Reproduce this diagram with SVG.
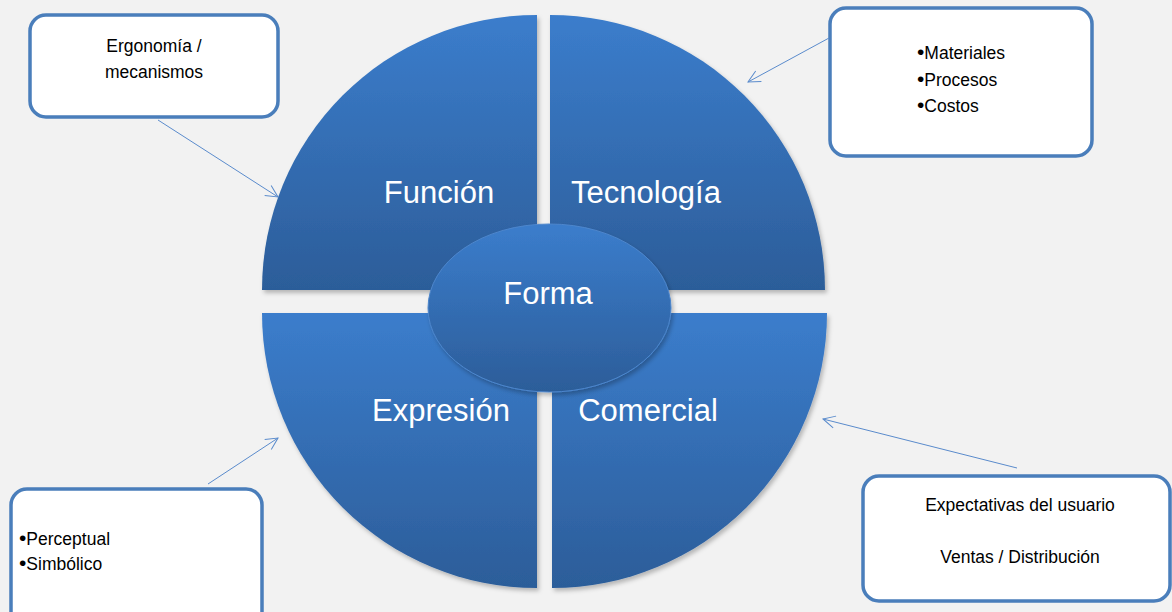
<svg xmlns="http://www.w3.org/2000/svg" width="1172" height="612" viewBox="0 0 1172 612">
<defs>
<linearGradient id="g" x1="0" y1="0" x2="0" y2="1">
<stop offset="0" stop-color="#3b7dcc"/>
<stop offset="1" stop-color="#2c5d99"/>
</linearGradient>
<filter id="sh" x="-10%" y="-10%" width="130%" height="130%">
<feDropShadow dx="2" dy="3" stdDeviation="2" flood-color="#000" flood-opacity="0.25"/>
</filter>
<marker id="ah" markerWidth="14" markerHeight="14" refX="13" refY="7" orient="auto" markerUnits="userSpaceOnUse">
<path d="M1,1 L13,7 L1,13" fill="none" stroke="#5a8bcc" stroke-width="1"/>
</marker>
<style>
.q{fill:url(#g);filter:url(#sh)}
.ql{font-family:"Liberation Sans",Arial,sans-serif;font-size:31px;fill:#fff;text-anchor:middle}
.box{fill:#fff;stroke:#4a7ebb;stroke-width:3.5}
.bt{font-family:"Liberation Sans",Arial,sans-serif;font-size:17.5px;fill:#000}
.b{font-size:21px}
.c{stroke:#5a8bcc;stroke-width:1;fill:none;marker-end:url(#ah)}
</style>
</defs>
<rect width="1172" height="612" fill="#f2f2f2"/>
<g id="funcion">
<path class="q" d="M537,290 L262,290 A275,275 0 0 1 537,15 Z"/>
<text class="ql" x="439" y="203">Función</text>
</g>
<g id="tecnologia">
<path class="q" d="M550,290 L550,15 A275,275 0 0 1 825,290 Z"/>
<text class="ql" x="646" y="203">Tecnología</text>
</g>
<g id="expresion">
<path class="q" d="M537,313 L537,588 A275,275 0 0 1 262,313 Z"/>
<text class="ql" x="441" y="421">Expresión</text>
</g>
<g id="comercial">
<path class="q" d="M552,313 L827,313 A275,275 0 0 1 552,588 Z"/>
<text class="ql" x="648" y="421">Comercial</text>
</g>
<g id="forma">
<ellipse cx="549.5" cy="308" rx="121.5" ry="84" fill="url(#g)" stroke="#4d86cc" stroke-width="1" filter="url(#sh)"/>
<text class="ql" x="548" y="304">Forma</text>
</g>
<g id="box-ergonomia">
<rect class="box" x="30" y="15" width="248" height="102" rx="16"/>
<text class="bt" x="154" y="52" text-anchor="middle">Ergonomía /</text>
<text class="bt" x="154" y="78" text-anchor="middle">mecanismos</text>
</g>
<g id="box-tecnologia">
<rect class="box" x="830" y="8" width="262" height="148" rx="16"/>
<text class="bt" x="917" y="59"><tspan class="b">•</tspan>Materiales</text>
<text class="bt" x="917" y="86"><tspan class="b">•</tspan>Procesos</text>
<text class="bt" x="917" y="112"><tspan class="b">•</tspan>Costos</text>
</g>
<g id="box-expresion">
<rect class="box" x="11" y="489" width="251" height="140" rx="16"/>
<text class="bt" x="19" y="545"><tspan class="b">•</tspan>Perceptual</text>
<text class="bt" x="19" y="570"><tspan class="b">•</tspan>Simbólico</text>
</g>
<g id="box-comercial">
<rect class="box" x="863" y="476" width="307" height="125" rx="16"/>
<text class="bt" x="1020" y="511" text-anchor="middle">Expectativas del usuario</text>
<text class="bt" x="1020" y="563" text-anchor="middle">Ventas / Distribución</text>
</g>
<g id="connectors">
<line class="c" x1="158" y1="120" x2="278" y2="197"/>
<line class="c" x1="829" y1="38" x2="748" y2="82"/>
<line class="c" x1="208" y1="484" x2="278" y2="438"/>
<line class="c" x1="1017" y1="468" x2="823" y2="419"/>
</g>
</svg>
